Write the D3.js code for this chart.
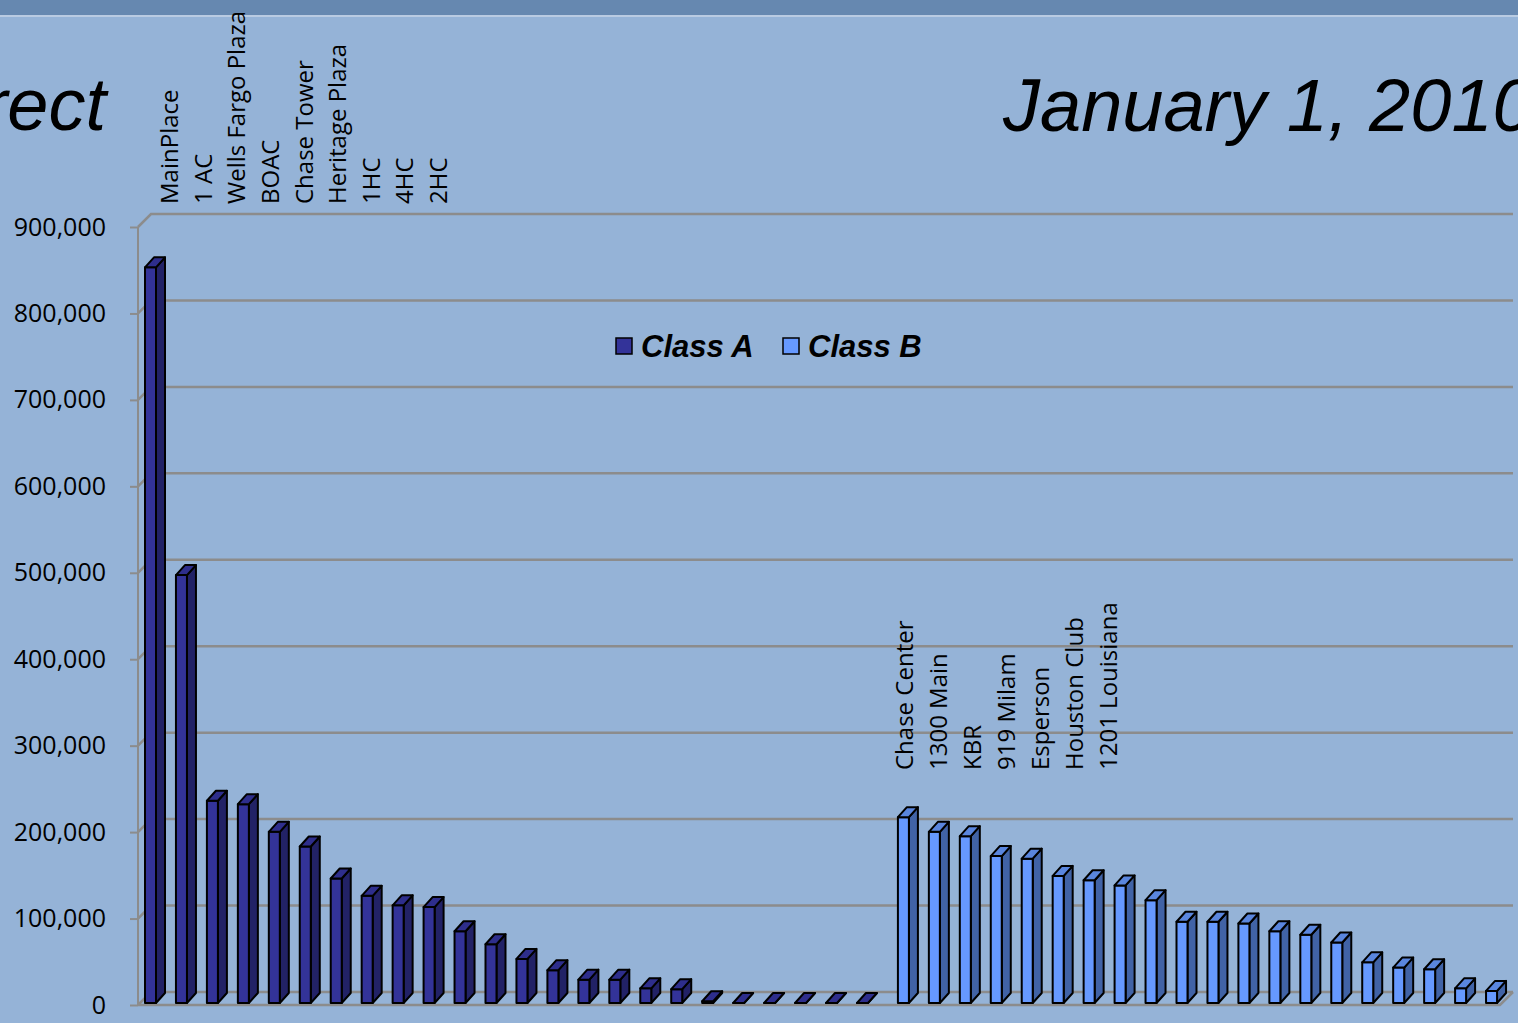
<!DOCTYPE html>
<html>
<head>
<meta charset="utf-8">
<script src="https://cdn.jsdelivr.net/npm/d3@7"></script>
<style>
	html, body { margin: 0; padding: 0; background: #95b3d7; overflow: hidden; }
	svg { display: block; }
	.axis text { font-family: "Open Sans", sans-serif; font-size: 25px; fill: #000; }
	.axis line, .axis path { stroke: #8c8c8c; stroke-width: 2; }
	.names text { font-family: "Open Sans", sans-serif; font-size: 24px; fill: #000; }
	.title { font-family: "Liberation Sans", Arial, sans-serif; font-style: italic; font-size: 74px; fill: #000; }
	.legend text { font-family: "Liberation Sans", Arial, sans-serif; font-style: italic; font-weight: bold; font-size: 31px; fill: #000; }
</style>
</head>
<body>
<svg id="chart" width="1518" height="1023"></svg>
<script>
// values (square feet)
const classAValues = [851000, 495000, 234000, 230000, 198000, 181000, 144000, 124000, 113000, 111000,
	83000, 68000, 51000, 38000, 27000, 27000, 17000, 16000, 2000, 0, 0, 0, 0, 0];
const classBValues = [215000, 198000, 193000, 170000, 167000, 147000, 142000, 136000, 119000, 94000,
	94000, 92000, 83000, 79000, 70000, 47000, 41000, 39000, 17000, 14000];
const classANames = ["MainPlace", "1 AC", "Wells Fargo Plaza", "BOAC", "Chase Tower", "Heritage Plaza", "1HC", "4HC", "2HC"];
const classBNames = ["Chase Center", "1300 Main", "KBR", "919 Milam", "Esperson", "Houston Club", "1201 Louisiana"];
const seriesNames = ["Class A", "Class B"];
const yTicks = [0, 100000, 200000, 300000, 400000, 500000, 600000, 700000, 800000, 900000];

const colors = {
	"Class A": {front: "#333399", side: "#222266", top: "#2e2e8c"},
	"Class B": {front: "#6699ff", side: "#4163a6", top: "#5a86de"}
};

const svg = d3.select("#chart");
const W = +svg.attr("width");

// slide header band
svg.append("rect").attr("x", 0).attr("y", 0).attr("width", W).attr("height", 15).attr("fill", "#6688b0");
svg.append("rect").attr("x", 0).attr("y", 15).attr("width", W).attr("height", 2).attr("fill", "#b9cbe2");

svg.append("text").attr("class", "title").attr("x", 106).attr("y", 130)
	.attr("text-anchor", "end").text("rect");
svg.append("text").attr("class", "title").attr("x", 1003).attr("y", 131).text("January 1, 2010");

// plot frame, 3d depth offset of the back wall
const depth = {dx: 13, dy: -13};
const left = 138, right = 1500;

const bars = [];
classAValues.forEach((v, i) => bars.push({key: "A" + i, series: "Class A", value: v}));
classBValues.forEach((v, i) => bars.push({key: "B" + i, series: "Class B", value: v}));

const x0 = d3.scaleBand().domain(bars.map(d => d.key)).range([left, right]);
const x1 = d3.scaleOrdinal().domain(seriesNames).range([7, 17]);
const y = d3.scaleLinear().domain([0, 900000]).range([1005, 227]);

const grid = svg.append("g").attr("class", "grid")
	.attr("stroke", "#8c8c8c").attr("stroke-width", 2.5).attr("fill", "none");

grid.selectAll("path").data(yTicks).join("path")
	.attr("d", d => `M${left},${y(d)}L${left + depth.dx},${y(d) + depth.dy}L${right + depth.dx},${y(d) + depth.dy}`);
grid.append("path")
	.attr("d", `M${left},${y(0)}L${right},${y(0)}L${right + depth.dx},${y(0) + depth.dy}`);

svg.append("g")
	.attr("class", "axis")
	.attr("transform", `translate(${left},0)`)
	.call(d3.axisLeft(y).tickValues(yTicks).tickSize(8).tickPadding(24).tickFormat(d3.format(",")))
	.call(g => g.select(".domain").attr("d", `M0,${y(0)}V${y(900000)}`));

// 3d columns
const barW = 11, bd = {dx: 9, dy: -10}, lift = 2;
const barG = svg.append("g").attr("stroke", "#000").attr("stroke-width", 2).attr("stroke-linejoin", "round");

barG.selectAll("g").data(bars).join("g")
	.each(function(d) {
		const g = d3.select(this);
		const bx = x0(d.key) + x1(d.series);
		const b0 = y(0) - lift, bt = y(d.value) - lift;
		const c = colors[d.series];
		g.append("path").attr("fill", c.side)
			.attr("d", `M${bx + barW},${bt}L${bx + barW + bd.dx},${bt + bd.dy}L${bx + barW + bd.dx},${b0 + bd.dy}L${bx + barW},${b0}Z`);
		g.append("path").attr("fill", c.front)
			.attr("d", `M${bx},${bt}H${bx + barW}V${b0}H${bx}Z`);
		g.append("path").attr("fill", c.top)
			.attr("d", `M${bx},${bt}L${bx + bd.dx},${bt + bd.dy}H${bx + barW + bd.dx}L${bx + barW},${bt}Z`);
	});

// building names above each group
const nameA = d3.scalePoint().domain(classANames).range([178, 447]);
const nameB = d3.scalePoint().domain(classBNames).range([913, 1117]);
const names = svg.append("g").attr("class", "names");
names.selectAll("text.a").data(classANames).join("text").attr("class", "a")
	.attr("transform", d => `translate(${nameA(d)},204) rotate(-90)`).text(d => d);
names.selectAll("text.b").data(classBNames).join("text").attr("class", "b")
	.attr("transform", d => `translate(${nameB(d)},770) rotate(-90)`).text(d => d);

// legend
const legend = svg.append("g").attr("class", "legend");
const legX = d3.scaleOrdinal().domain(seriesNames).range([616, 783]);
legend.selectAll("rect").data(seriesNames).join("rect")
	.attr("x", d => legX(d)).attr("y", 338).attr("width", 16).attr("height", 16)
	.attr("fill", d => colors[d].front).attr("stroke", "#000").attr("stroke-width", 1.5);
legend.selectAll("text").data(seriesNames).join("text")
	.attr("x", d => legX(d) + 25).attr("y", 357).text(d => d);
</script>
</body>
</html>
